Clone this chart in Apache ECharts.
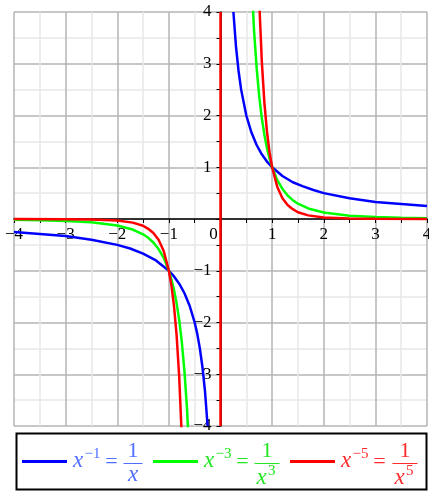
<!DOCTYPE html>
<html><head><meta charset="utf-8">
<script src="https://cdn.jsdelivr.net/npm/echarts@6/dist/echarts.min.js"></script>
<style>html,body{margin:0;padding:0;background:#fff;}#c{width:429px;height:491px;}</style>
</head><body><div id="c"></div>
<script>
// axis range / ticks
const xRange = [-4, 4];
const yRange = [-4, 4];

// y = x^-1 (blue)
const blueNegX = [-4, -3.5, -3, -2.5, -2, -1.75, -1.5, -1.25, -1, -0.9, -0.8, -0.7, -0.6, -0.5, -0.45, -0.4, -0.35, -0.3, -0.25];
const blueNegY = [-0.25, -0.29, -0.33, -0.4, -0.5, -0.57, -0.67, -0.8, -1, -1.11, -1.25, -1.43, -1.67, -2, -2.22, -2.5, -2.86, -3.33, -4];
const bluePosX = [0.25, 0.3, 0.35, 0.4, 0.5, 0.6, 0.7, 0.8, 0.9, 1, 1.2, 1.4, 1.6, 1.8, 2, 2.5, 3, 3.5, 4];
const bluePosY = [4, 3.33, 2.86, 2.5, 2, 1.67, 1.43, 1.25, 1.11, 1, 0.83, 0.71, 0.63, 0.56, 0.5, 0.4, 0.33, 0.29, 0.25];

// y = x^-3 (green)
const greenNegX = [-4, -3.5, -3, -2.5, -2, -1.7, -1.5, -1.4, -1.3, -1.2, -1.1, -1, -0.95, -0.9, -0.85, -0.8, -0.75, -0.7, -0.65, -0.6];
const greenNegY = [-0.016, -0.023, -0.037, -0.064, -0.125, -0.204, -0.296, -0.364, -0.455, -0.58, -0.75, -1, -1.17, -1.37, -1.63, -1.95, -2.37, -2.92, -3.64, -4.63];
const greenPosX = [0.6, 0.65, 0.7, 0.75, 0.8, 0.85, 0.9, 0.95, 1, 1.1, 1.2, 1.3, 1.4, 1.5, 1.7, 2, 2.5, 3, 3.5, 4];
const greenPosY = [4.63, 3.64, 2.92, 2.37, 1.95, 1.63, 1.37, 1.17, 1, 0.75, 0.58, 0.455, 0.364, 0.296, 0.204, 0.125, 0.064, 0.037, 0.023, 0.016];

// y = x^-5 (red)
const redNegX = [-4, -3, -2.5, -2, -1.7, -1.5, -1.4, -1.3, -1.2, -1.1, -1, -0.95, -0.9, -0.85, -0.8, -0.75];
const redNegY = [-0.001, -0.004, -0.01, -0.031, -0.07, -0.13, -0.19, -0.27, -0.4, -0.62, -1, -1.29, -1.69, -2.25, -3.05, -4.21];
const redPosX = [0.75, 0.8, 0.85, 0.9, 0.95, 1, 1.1, 1.2, 1.3, 1.4, 1.5, 1.7, 2, 2.5, 3, 4];
const redPosY = [4.21, 3.05, 2.25, 1.69, 1.29, 1, 0.62, 0.4, 0.27, 0.19, 0.13, 0.07, 0.031, 0.01, 0.004, 0.001];

const zip = (xs, ys) => xs.map((x, i) => [x, ys[i]]);
const serif = '"Liberation Serif", "DejaVu Serif", serif';
const minus = v => (v < 0 ? '\u2212' + Math.abs(v) : String(v));

const W = 429, H = 491;
const grid = { left: 14, right: 2, top: 12, bottom: 65 };
const gw = W - grid.left - grid.right, gh = H - grid.top - grid.bottom;
// place axes through the origin (fraction of the grid where value 0 lies)
const xZeroOffset = -gh * (0 - yRange[0]) / (yRange[1] - yRange[0]);
const yZeroOffset = -gw * (0 - xRange[0]) / (xRange[1] - xRange[0]);

function ser(name, color, xs, ys, extra) {
  return Object.assign({
    name: name, type: 'line', data: zip(xs, ys), showSymbol: false, clip: true,
    lineStyle: { color: color, width: 2.5 }, itemStyle: { color: color }, animation: false, z: 3
  }, extra || {});
}

const labelRich = {
  n: { fontFamily: serif, fontSize: 17, color: '#000' },
  z: { fontFamily: serif, fontSize: 17, color: '#000', padding: [0, 14, 0, 0] }
};

function axisCommon() {
  return {
    type: 'value', interval: 1,
    axisLine: { onZero: false, lineStyle: { color: '#000', width: 1.5 } },
    axisTick: { show: true, length: 4, lineStyle: { color: '#000', width: 1 } },
    minorTick: { show: true, splitNumber: 2, length: 4, lineStyle: { color: '#000', width: 1 } },
    splitLine: { show: true, lineStyle: { color: '#b4b4b4', width: 1.5 } },
    minorSplitLine: { show: true, lineStyle: { color: '#e8e8e8', width: 1.5 } }
  };
}

const xAxis = Object.assign(axisCommon(), {
  min: xRange[0], max: xRange[1], position: 'bottom', offset: xZeroOffset,
  axisLabel: {
    showMinLabel: true, showMaxLabel: true, margin: 7, hideOverlap: false,
    fontFamily: serif, fontSize: 17, color: '#000',
    formatter: v => (v === 0 ? '{z|0}' : '{n|' + minus(v) + '}'),
    rich: labelRich
  }
});
const yAxis = Object.assign(axisCommon(), {
  min: yRange[0], max: yRange[1], position: 'left', offset: yZeroOffset,
  axisLabel: {
    showMinLabel: true, showMaxLabel: true, margin: 9, hideOverlap: false,
    fontFamily: serif, fontSize: 17, color: '#000',
    formatter: v => (v === 0 ? '' : '{n|' + minus(v) + '}'),
    rich: labelRich
  }
});

// legend drawn as graphic (math-style labels with fractions)
function T(text, x, y, size, color, italic, align) {
  return {
    type: 'text', x: x, y: y, z: 100, silent: true,
    style: {
      text: text, fill: color,
      font: (italic ? 'italic ' : '') + size + 'px ' + serif,
      textAlign: align || 'left', align: align || 'left',
      textVerticalAlign: 'middle', verticalAlign: 'middle'
    }
  };
}
function L(x1, y1, x2, y2, color, w) {
  return { type: 'line', z: 100, silent: true, shape: { x1: x1, y1: y1, x2: x2, y2: y2 }, style: { stroke: color, lineWidth: w } };
}

const legendItems = [
  { line: '#0000ff', text: '#4f6dff', sup: '\u22121', den: '', lx: 22, tx: 73, fx: 133 },
  { line: '#00ff00', text: '#22e622', sup: '\u22123', den: '3', lx: 153, tx: 204, fx: 267 },
  { line: '#ff0000', text: '#ff2a2a', sup: '\u22125', den: '5', lx: 290, tx: 341, fx: 405 }
];
const graphic = [{
  type: 'rect', z: 90, silent: true,
  shape: { x: 16.5, y: 433.5, width: 410, height: 56 },
  style: { fill: '#fff', stroke: '#000', lineWidth: 2 }
}];
legendItems.forEach(it => {
  graphic.push(L(it.lx, 461.5, it.lx + 45, 461.5, it.line, 3));
  graphic.push(T('x', it.tx, 461, 23, it.text, true));
  graphic.push(T(it.sup, it.tx + 11.5, 454, 15, it.text, false));
  graphic.push(T('=', it.tx + 38.5, 462, 22, it.text, false, 'center'));
  graphic.push(T('1', it.fx, 451.5, 22, it.text, false, 'center'));
  if (it.den) {
    graphic.push(L(it.fx - 12.5, 463.5, it.fx + 12.5, 463.5, it.text, 1));
    graphic.push(T('x', it.fx - 10.5, 478, 23, it.text, true));
    graphic.push(T(it.den, it.fx + 1, 471, 15, it.text, false));
  } else {
    graphic.push(L(it.fx - 9.5, 463.5, it.fx + 9.5, 463.5, it.text, 1));
    graphic.push(T('x', it.fx, 475, 23, it.text, true, 'center'));
  }
});

const chart = echarts.init(document.getElementById('c'), null, { renderer: 'canvas' });
chart.setOption({
  animation: false,
  backgroundColor: '#fff',
  grid: Object.assign({ containLabel: false, outerBoundsMode: 'none' }, grid),
  xAxis: xAxis,
  yAxis: yAxis,
  series: [
    ser('x^-1', '#0000ff', blueNegX, blueNegY),
    ser('x^-1', '#0000ff', bluePosX, bluePosY),
    ser('x^-3', '#00ff00', greenNegX, greenNegY),
    ser('x^-3', '#00ff00', greenPosX, greenPosY),
    ser('x^-5', '#ff0000', redNegX, redNegY),
    ser('x^-5', '#ff0000', redPosX, redPosY, {
      markLine: {
        silent: true, symbol: ['none', 'none'], animation: false,
        label: { show: false },
        lineStyle: { color: '#ff0000', width: 2.5, type: 'solid' },
        data: [{ xAxis: 0 }]
      }
    })
  ],
  graphic: graphic
});
</script>
</body></html>
